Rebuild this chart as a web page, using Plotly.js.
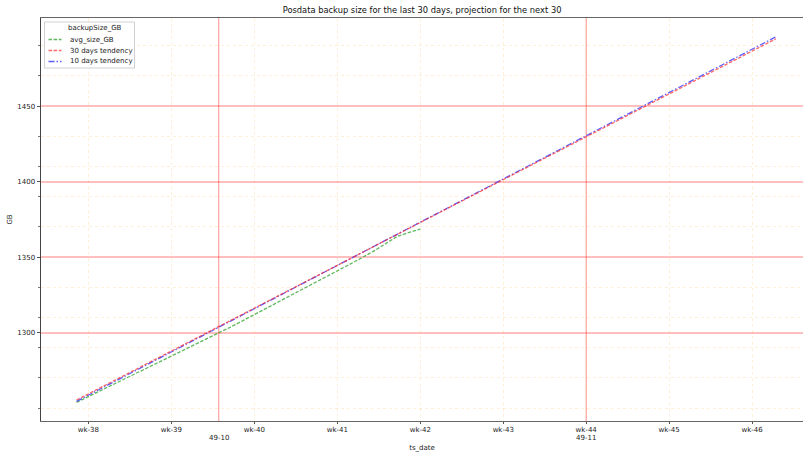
<!DOCTYPE html>
<html>
<head>
<meta charset="utf-8">
<script src="https://cdn.plot.ly/plotly-3.0.1.min.js"></script>
<style>html,body{margin:0;padding:0;background:#fff}#chart{width:804px;height:452px}</style>
</head>
<body>
<div id="chart"></div>
<script>
// ---- data ----
const avgDates = [
  '2019-09-19','2019-09-20','2019-09-21','2019-09-22','2019-09-23','2019-09-24','2019-09-25','2019-09-26','2019-09-27','2019-09-28',
  '2019-09-29','2019-09-30','2019-10-01','2019-10-02','2019-10-03','2019-10-04','2019-10-05','2019-10-06','2019-10-07','2019-10-08',
  '2019-10-09','2019-10-10','2019-10-11','2019-10-12','2019-10-13','2019-10-14','2019-10-15','2019-10-16','2019-10-17','2019-10-18'
];
const avgSizeGB = [
  1253.8,1257.6,1261.4,1265.2,1269.0,1272.8,1276.7,1280.5,1284.3,1288.1,
  1291.9,1295.7,1299.5,1303.7,1307.8,1312.0,1316.2,1320.3,1324.5,1328.6,
  1332.7,1336.8,1340.9,1345.0,1349.2,1353.6,1358.5,1363.5,1366.2,1368.5
];
const tend30Dates = ['2019-09-19','2019-11-17'];
const tend30Values = [1255.4,1494.5];
const tend10Dates = ['2019-09-19','2019-11-17'];
const tend10Values = [1254.5,1495.8];

const seriesNames = ['avg_size_GB','30 days tendency','10 days tendency'];
const legendTitle = 'backupSize_GB';

const weekTicks = ['2019-09-20','2019-09-27','2019-10-04','2019-10-11','2019-10-18','2019-10-25','2019-11-01','2019-11-08','2019-11-15'];
const weekLabels = ['wk-38','wk-39','wk-40','wk-41','wk-42','wk-43','wk-44','wk-45','wk-46'];
const monthTicks = ['2019-10-01','2019-11-01'];
const monthLabels = ['49-10','49-11'];
const yMajorTicks = [1300,1350,1400,1450];
const yMinorTicks = [1250,1270,1290,1310,1330,1370,1390,1410,1430,1470,1490];

const FONT = 'DejaVu Sans, sans-serif';
const W = 804, H = 452, ML = 41, MR = 1, MT = 18, MB = 31;
const PW = W - ML - MR, PH = H - MT - MB;
const px = x => (x - ML) / PW;          // pixel -> paper x
const py = y => (H - MB - y) / PH;      // pixel -> paper y

const styles = [
  {color: 'rgba(44,160,44,0.75)', width: 1.3, dash: '3.5px,1.6px'},
  {color: 'rgba(255,40,40,0.7)', width: 1.3, dash: '3.5px,1.6px'},
  {color: 'rgba(40,40,255,0.75)', width: 1.3, dash: '6px,2px,1.5px,2px'}
];

const traces = [
  {x: avgDates, y: avgSizeGB, name: seriesNames[0], type: 'scatter', mode: 'lines', line: styles[0]},
  {x: tend10Dates, y: tend10Values, name: seriesNames[2], type: 'scatter', mode: 'lines', line: styles[2]},
  {x: tend30Dates, y: tend30Values, name: seriesNames[1], type: 'scatter', mode: 'lines', line: styles[1]}
];

const shapes = monthTicks.map(d => ({
  type: 'line', xref: 'x', yref: 'paper', x0: d, x1: d, y0: 0, y1: 1,
  line: {color: 'rgba(255,0,0,0.45)', width: 1}, layer: 'below'
}));

const annotations = monthTicks.map((d, i) => ({
  x: d, xref: 'x', y: 0, yref: 'paper', yshift: -17, text: monthLabels[i],
  showarrow: false, yanchor: 'middle', xanchor: 'center',
  font: {family: FONT, size: 7, color: '#222'}
}));

// custom compact legend (matplotlib-like)
shapes.push({type: 'rect', xref: 'paper', yref: 'paper',
  x0: px(44.5), x1: px(134.5), y0: py(68), y1: py(22),
  fillcolor: 'rgba(255,255,255,0.85)', line: {color: '#d0d0d0', width: 1}, layer: 'above'});
annotations.push({xref: 'paper', yref: 'paper', x: px(94.5), y: py(28.5), text: legendTitle,
  showarrow: false, xanchor: 'center', yanchor: 'middle', font: {family: FONT, size: 7, color: '#222'}});
const rowY = [39.5, 50.5, 61.5];
seriesNames.forEach((n, i) => {
  shapes.push({type: 'line', xref: 'paper', yref: 'paper', x0: px(48.5), x1: px(61.5), y0: py(rowY[i]), y1: py(rowY[i]),
    line: styles[i], layer: 'above'});
  annotations.push({xref: 'paper', yref: 'paper', x: px(67.5), y: py(rowY[i]), text: n,
    showarrow: false, xanchor: 'left', yanchor: 'middle', font: {family: FONT, size: 7, color: '#222'}});
});

const layout = {
  width: W, height: H,
  margin: {l: ML, r: MR, t: MT, b: MB},
  paper_bgcolor: '#fff', plot_bgcolor: '#fff',
  title: {text: 'Posdata backup size for the last 30 days, projection for the next 30',
          font: {family: FONT, size: 8.3, color: '#111'}, x: 0.525, xanchor: 'center', y: 0.977, yanchor: 'middle'},
  showlegend: false,
  xaxis: {
    type: 'date', range: ['2019-09-16 00:00', '2019-11-19 07:00'],
    tickmode: 'array', tickvals: weekTicks, ticktext: weekLabels,
    ticks: 'outside', ticklen: 2, tickwidth: 1, tickcolor: '#555',
    tickfont: {family: FONT, size: 7, color: '#222'},
    showgrid: true, gridcolor: 'rgba(255,170,60,0.2)', gridwidth: 1, griddash: 'dot',
    showline: true, linecolor: '#666', linewidth: 1, mirror: true,
    zeroline: false,
    title: {text: 'ts_date', font: {family: FONT, size: 7, color: '#222'}, standoff: 16}
  },
  yaxis: {
    range: [1241.5, 1508.3],
    tickmode: 'array', tickvals: yMajorTicks, ticktext: yMajorTicks.map(String),
    ticks: 'outside', ticklen: 3.5, tickwidth: 1, tickcolor: '#555',
    tickfont: {family: FONT, size: 7, color: '#222'},
    showgrid: true, gridcolor: 'rgba(255,0,0,0.25)', gridwidth: 2,
    minor: {tickmode: 'array', tickvals: yMinorTicks, ticks: 'outside', ticklen: 2, tickcolor: '#777',
            showgrid: true, gridcolor: 'rgba(255,170,60,0.2)', gridwidth: 1, griddash: 'dot'},
    showline: true, linecolor: '#444', linewidth: 1,
    zeroline: false,
    title: {text: 'GB', font: {family: FONT, size: 7, color: '#222'}, standoff: 3}
  },
  shapes: shapes,
  annotations: annotations
};

Plotly.newPlot('chart', traces, layout, {displayModeBar: false, staticPlot: true});
</script>
</body>
</html>
